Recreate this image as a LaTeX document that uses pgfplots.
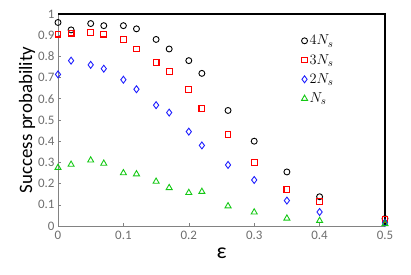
\documentclass[border=0pt]{standalone}
\usepackage{pgfplots}
\pgfplotsset{compat=1.18}
\usepackage{fontspec}
\setmainfont{Carlito}
\definecolor{tickgray}{RGB}{110,110,110}
\definecolor{axgray}{RGB}{130,130,130}
\definecolor{mred}{RGB}{255,0,0}
\definecolor{mblue}{RGB}{30,30,255}
\definecolor{mgreen}{RGB}{20,200,20}
\begin{document}
\begin{tikzpicture}
\begin{axis}[
  scale only axis, width=327bp, height=212bp,
  xmin=0, xmax=0.5, ymin=0, ymax=1,
  xtick={0,0.1,...,0.5}, ytick={0,0.1,...,1},
  xticklabels={0,0.1,0.2,0.3,0.4,0.5},
  yticklabels={0,0.1,0.2,0.3,0.4,0.5,0.6,0.7,0.8,0.9,1},
  tick align=inside, xtick pos=bottom, ytick pos=left,
  major tick length=3pt,
  tick style={axgray, line width=0.6pt},
  axis line style={draw=none},
  ticklabel style={font=\fontsize{13}{15}\selectfont, text=tickgray},
  xticklabel style={yshift=-2pt},
  ylabel={\fontsize{19}{22}\selectfont Success probability},
  ylabel style={yshift=-4pt},
  xlabel={\fontsize{22}{24}\selectfont ε},
  xlabel style={yshift=-1pt},
  clip=false,
  legend style={draw=none, fill=none, at={(rel axis cs:0.735,0.92)}, anchor=north west,
    font=\fontsize{15}{17}\selectfont, row sep=4pt},
  legend cell align=left,
]
\draw[axgray, line width=0.8pt] (rel axis cs:0,1) -- (rel axis cs:0,0) -- (rel axis cs:1,0);
\draw[black, line width=1.4pt] (rel axis cs:0,1) -- (rel axis cs:1,1) -- (rel axis cs:1,0);
\addplot[only marks, mark=o, mark size=3pt, draw=black, mark options={draw=black, line width=0.9pt}] coordinates {
(0,0.96)(0.02,0.925)(0.05,0.955)(0.07,0.945)(0.10,0.945)(0.12,0.93)(0.15,0.88)(0.17,0.835)(0.20,0.78)(0.22,0.72)(0.26,0.545)(0.30,0.40)(0.35,0.255)(0.40,0.138)(0.50,0.035)};
\addlegendentry{$4N_s$}
\addplot[only marks, mark=square, mark size=2.9pt, draw=mred, mark options={draw=mred, line width=1.1pt}] coordinates {
(0,0.905)(0.02,0.91)(0.05,0.912)(0.07,0.905)(0.10,0.88)(0.12,0.835)(0.15,0.77)(0.17,0.73)(0.20,0.645)(0.22,0.555)(0.26,0.43)(0.30,0.30)(0.35,0.173)(0.40,0.115)(0.50,0.03)};
\addlegendentry{$3N_s$}
\addplot[only marks, mark=diamond, mark size=3.5pt, draw=mblue, mark options={draw=mblue, line width=0.9pt}] coordinates {
(0,0.715)(0.02,0.78)(0.05,0.76)(0.07,0.742)(0.10,0.69)(0.12,0.645)(0.15,0.57)(0.17,0.535)(0.20,0.445)(0.22,0.38)(0.26,0.288)(0.30,0.217)(0.35,0.12)(0.40,0.066)(0.50,0.015)};
\addlegendentry{$2N_s$}
\addplot[only marks, mark=triangle, mark size=3.5pt, draw=mgreen, mark options={draw=mgreen, line width=0.9pt}] coordinates {
(0,0.275)(0.02,0.29)(0.05,0.31)(0.07,0.295)(0.10,0.25)(0.12,0.245)(0.15,0.21)(0.17,0.18)(0.20,0.157)(0.22,0.162)(0.26,0.094)(0.30,0.065)(0.35,0.036)(0.40,0.025)(0.50,0.01)};
\addlegendentry{$N_s$}
\end{axis}
\path (-58bp,-49bp) rectangle (353bp,226bp);
\end{tikzpicture}
\end{document}
